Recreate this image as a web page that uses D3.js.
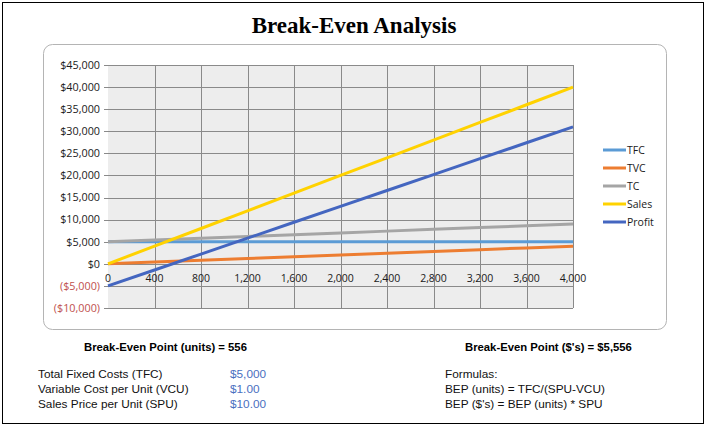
<!DOCTYPE html>
<html><head><meta charset="utf-8">
<script src="https://cdn.jsdelivr.net/npm/d3@7"></script>
<style>body{margin:0;background:#fff;}svg{display:block;}</style>
</head><body>
<script>
const units  = [0,400,800,1200,1600,2000,2400,2800,3200,3600,4000];
const tfc    = [5000,5000,5000,5000,5000,5000,5000,5000,5000,5000,5000];
const tvc    = [0,400,800,1200,1600,2000,2400,2800,3200,3600,4000];
const tc     = [5000,5400,5800,6200,6600,7000,7400,7800,8200,8600,9000];
const sales  = [0,4000,8000,12000,16000,20000,24000,28000,32000,36000,40000];
const profit = [-5000,-1400,2200,5800,9400,13000,16600,20200,23800,27400,31000];
const seriesNames = ["TFC","TVC","TC","Sales","Profit"];
const seriesColors = ["#5b9bd5","#ed7d31","#a5a5a5","#ffd200","#4466c0"];
const xTicks = [0,400,800,1200,1600,2000,2400,2800,3200,3600,4000];
const yTicks = [-10000,-5000,0,5000,10000,15000,20000,25000,30000,35000,40000,45000];
const infoLabels = ["Total Fixed Costs (TFC)","Variable Cost per Unit (VCU)","Sales Price per Unit (SPU)"];
const infoValues = ["$5,000","$1.00","$10.00"];
const formulaLines = ["Formulas:","BEP (units) = TFC/(SPU-VCU)","BEP ($'s) = BEP (units) * SPU"];

const W=706,H=427;
const svg=d3.select("body").append("svg").attr("width",W).attr("height",H);
svg.append("rect").attr("x",2.5).attr("y",2.5).attr("width",701).attr("height",421).attr("fill","#fff").attr("stroke","#000").attr("stroke-width",1);
svg.append("text").attr("x",354).attr("y",33).attr("text-anchor","middle")
  .attr("font-family","'Liberation Serif','Times New Roman',serif").attr("font-weight","bold").attr("font-size",23).text("Break-Even Analysis");
svg.append("rect").attr("x",43.5).attr("y",44.5).attr("width",623).attr("height",285).attr("rx",9)
  .attr("fill","#fff").attr("stroke","#b4b4b4");

const x=d3.scaleLinear().domain([0,4000]).range([108,573]);
const y=d3.scaleLinear().domain([-10000,45000]).range([308,65]);
const g=svg.append("g");
g.append("rect").attr("x",x(0)).attr("y",y(45000)).attr("width",x(4000)-x(0)).attr("height",y(-10000)-y(45000)).attr("fill","#ededed");
// gridlines
g.selectAll(".hg").data(yTicks).join("line").attr("x1",x(0)-4).attr("x2",x(4000))
  .attr("y1",d=>Math.round(y(d))+0.5).attr("y2",d=>Math.round(y(d))+0.5).attr("stroke","#8a8a8a");
g.selectAll(".vg").data(xTicks.slice(1)).join("line").attr("y1",y(45000)).attr("y2",y(-10000))
  .attr("x1",d=>Math.round(x(d))+0.5).attr("x2",d=>Math.round(x(d))+0.5).attr("stroke","#8a8a8a");
// y labels
const fmt=v=>v<0?"($"+d3.format(",")(-v)+")":"$"+d3.format(",")(v);
const af="'Open Sans','Noto Sans',sans-serif";
g.selectAll(".yl").data(yTicks).join("text").attr("x",100).attr("y",d=>y(d)+3.8).attr("text-anchor","end")
  .attr("font-family",af).attr("font-size",10.8)
  .attr("fill",d=>d<0?"#c0504d":"#1a1a1a").text(fmt);
// x labels
g.selectAll(".xl").data(xTicks).join("text").attr("x",d=>x(d)).attr("y",y(0)+18).attr("text-anchor","middle")
  .attr("font-family",af).attr("font-size",10.5).attr("fill","#1a1a1a").text(d3.format(","));
// lines
const all=[tfc,tvc,tc,sales,profit];
const line=d3.line().x((d,i)=>x(units[i])).y(d=>y(d));
all.forEach((s,i)=>{
  g.append("path").datum(s).attr("d",line).attr("fill","none").attr("stroke",seriesColors[i]).attr("stroke-width",3);
});
// legend
seriesNames.forEach((n,i)=>{
  const ly=150+i*18;
  svg.append("line").attr("x1",603).attr("x2",626).attr("y1",ly).attr("y2",ly).attr("stroke",seriesColors[i]).attr("stroke-width",3);
  svg.append("text").attr("x",627).attr("y",ly+3.8).attr("font-family",af).attr("font-size",10.5).attr("fill","#1a1a1a").text(n);
});
// bottom text
const ff="'Liberation Sans',Arial,sans-serif";
svg.append("text").attr("x",84).attr("y",351).attr("font-family",ff).attr("font-weight","bold").attr("font-size",11.3).text("Break-Even Point (units) = 556");
svg.append("text").attr("x",465).attr("y",351).attr("font-family",ff).attr("font-weight","bold").attr("font-size",11.3).text("Break-Even Point ($'s) = $5,556");
infoLabels.forEach((t,i)=>{
  svg.append("text").attr("x",38).attr("y",378+i*15).attr("font-family",ff).attr("font-size",11.8).attr("fill","#111").text(t);
  svg.append("text").attr("x",230).attr("y",378+i*15).attr("font-family",ff).attr("font-size",11.8).attr("fill","#4a6fc0").text(infoValues[i]);
});
formulaLines.forEach((t,i)=>{
  svg.append("text").attr("x",445).attr("y",378+i*15).attr("font-family",ff).attr("font-size",11.8).attr("fill","#111").text(t);
});
</script>
</body></html>
